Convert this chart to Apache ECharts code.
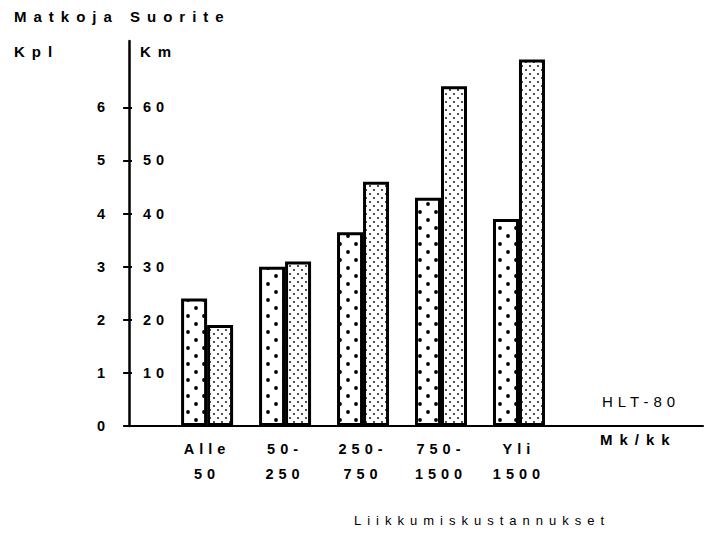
<!DOCTYPE html>
<html>
<head>
<meta charset="utf-8">
<script src="https://cdn.jsdelivr.net/npm/echarts@6/dist/echarts.min.js"></script>
<style>
  html, body { margin: 0; padding: 0; background: #fff; }
  #chart { width: 707px; height: 533px; }
  /* the scanned original uses widely spaced lettering */
  #chart svg text { letter-spacing: 5px; }
  #chart svg text[style*="Arial"], #chart svg text[font-family*="Arial"] { letter-spacing: 7px; }
  #chart svg text[style*="Helvetica"], #chart svg text[font-family*="Helvetica"] { letter-spacing: 6px; }
</style>
</head>
<body>
<div id="chart"></div>
<script>
// income classes (Mk/kk)
const categories = ["Alle\n50", "50-\n250", "250-\n750", "750-\n1500", "Yli\n1500"];
// trips, Kpl (left scale)
const matkoja = [2.4, 3.0, 3.65, 4.3, 3.9];
// distance, Km (right-hand labels)
const suorite = [19, 31, 46, 64, 69];
const kplTicks = [0, 1, 2, 3, 4, 5, 6];
const kmTicks = [10, 20, 30, 40, 50, 60];

const FONT = "Liberation Sans";
const WIDE = "Liberation Sans, Arial";
const MID = "Liberation Sans, Helvetica";

function dotPattern(cell, r) {
  const c = document.createElement("canvas");
  c.width = c.height = cell * 2;
  const ctx = c.getContext("2d");
  ctx.fillStyle = "#fff";
  ctx.fillRect(0, 0, c.width, c.height);
  ctx.fillStyle = "#000";
  [[cell / 2, cell / 2], [cell * 1.5, cell * 1.5]].forEach(([x, y]) => {
    ctx.beginPath();
    ctx.arc(x, y, r, 0, Math.PI * 2);
    ctx.fill();
  });
  return c;
}

const chart = echarts.init(document.getElementById("chart"), null, { renderer: "svg" });

const txt = (size, weight, family) => ({
  color: "#000", fontFamily: family || FONT, fontSize: size, fontWeight: weight || "bold"
});

chart.setOption({
  animation: false,
  backgroundColor: "#fff",
  title: [
    { text: "Matkoja Suorite", left: 14, top: 9, padding: 0, textStyle: txt(15, "bold", WIDE) },
    { text: "Kpl", left: 14, top: 44, padding: 0, textStyle: txt(15, "bold", WIDE) },
    { text: "Km", left: 140, top: 44, padding: 0, textStyle: txt(15, "bold", WIDE) },
    { text: "HLT-80", left: 602, top: 394, padding: 0, textStyle: txt(15, "normal") },
    { text: "Mk/kk", left: 600, top: 432, padding: 0, textStyle: txt(15, "bold", WIDE) },
    { text: "Liikkumiskustannukset", left: 354, top: 514, padding: 0, textStyle: txt(13, "normal", MID) }
  ],
  grid: { left: 126, right: 4, top: 41, bottom: 107 },
  xAxis: {
    type: "value",
    min: -0.04,
    max: 7.36,
    axisLine: { show: true, onZero: false, lineStyle: { color: "#000", width: 2 } },
    axisTick: { show: false },
    splitLine: { show: false },
    axisLabel: {
      customValues: [1, 2, 3, 4, 5],
      formatter: (v) => categories[Math.round(v) - 1] || "",
      margin: 10,
      lineHeight: 25,
      ...txt(14.5)
    }
  },
  yAxis: [
    {
      type: "value",
      position: "left",
      min: 0,
      max: 7.25,
      axisLine: { show: true, lineStyle: { color: "#000", width: 2.5 } },
      axisTick: { show: true, customValues: kplTicks, length: 6, lineStyle: { color: "#000", width: 2 } },
      axisLabel: { customValues: kplTicks, margin: 16, ...txt(14.5) },
      splitLine: { show: false }
    },
    {
      type: "value",
      position: "left",
      offset: 0,
      min: 0,
      max: 72.5,
      axisLine: { show: false },
      axisTick: { show: true, inside: true, customValues: kmTicks, length: 6, lineStyle: { color: "#000", width: 2 } },
      axisLabel: { inside: true, customValues: kmTicks, margin: 17, ...txt(14.5) },
      splitLine: { show: false }
    }
  ],
  series: [
    {
      name: "Matkoja",
      type: "bar",
      yAxisIndex: 0,
      barWidth: 26,
      barGap: "0%",
      data: matkoja.map((v, i) => [i + 1, v]),
      itemStyle: {
        color: { image: dotPattern(8, 1.9), repeat: "repeat" },
        borderColor: "#000",
        borderWidth: 3
      }
    },
    {
      name: "Suorite",
      type: "bar",
      yAxisIndex: 1,
      barWidth: 26,
      barGap: "0%",
      data: suorite.map((v, i) => [i + 1, v]),
      itemStyle: {
        color: { image: dotPattern(4, 0.9), repeat: "repeat" },
        borderColor: "#000",
        borderWidth: 3
      }
    }
  ]
});
</script>
</body>
</html>
